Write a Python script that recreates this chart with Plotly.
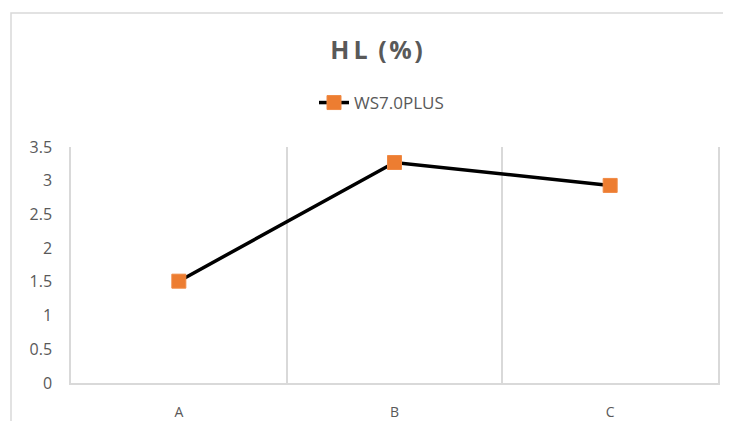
import plotly.graph_objects as go

categories = ["A", "B", "C"]
values = [1.51, 3.27, 2.93]
series_name = "WS7.0PLUS"
y_ticks = [0, 0.5, 1, 1.5, 2, 2.5, 3, 3.5]
y_tick_labels = ["0", "0.5", "1", "1.5", "2", "2.5", "3", "3.5"]

OFF = 8  # page body margin
W, H = 731 - OFF, 421 - OFF
# plot area in page pixels: left 71, top 147, right 718, bottom 383
L = 71 - OFF
T = 147 - OFF
R = W - (718 - OFF)
B = H - (383 - OFF)
pw = W - L - R
ph = H - T - B

grid = "#D9D9D9"
txt = "#595959"


def px_x(page_x):
    return (page_x - OFF - L) / pw


def px_y(page_y):
    return (H - B - (page_y - OFF)) / ph


fig = go.Figure()
fig.add_trace(go.Scatter(
    x=categories, y=values, name=series_name, mode="lines+markers",
    line=dict(color="black", width=3.5),
    marker=dict(symbol="square", size=14, color="#ED7D31",
                line=dict(color="#F08A45", width=1)),
))

# outer chart border (cropped by the picture)
fig.add_shape(type="rect", xref="paper", yref="paper",
              x0=px_x(11), x1=1.5, y0=-0.5, y1=px_y(13),
              line=dict(color=grid, width=1.5), layer="below")

title_text = "H\u2009L\u2009 (\u200a%\u200a)"

fig.update_layout(
    width=W, height=H,
    margin=dict(l=L, r=R, t=T, b=B, autoexpand=False),
    paper_bgcolor="white", plot_bgcolor="white",
    font=dict(family="Open Sans", color=txt, size=13),
    title=dict(text="<b>" + title_text + "</b>", x=(376.5 - OFF) / W, xanchor="center",
               y=1 - (50 - OFF) / H, yanchor="middle",
               font=dict(family="Open Sans", size=25, color=txt)),
    showlegend=True,
    legend=dict(orientation="h", x=px_x(314), xanchor="left",
                y=px_y(103), yanchor="middle",
                font=dict(size=17, color=txt), bgcolor="rgba(0,0,0,0)"),
    xaxis=dict(type="category", range=[-0.5, 2.5], tickson="boundaries",
               showgrid=True, gridcolor=grid, gridwidth=1.5,
               showline=True, linecolor=grid, linewidth=1.5, mirror=False,
               ticks="", tickfont=dict(size=14, color=txt),
               ticklabelstandoff=15, zeroline=False, automargin=False),
    yaxis=dict(range=[0, 3.5], tickvals=y_ticks, ticktext=y_tick_labels,
               showgrid=False, zeroline=False,
               showline=True, linecolor=grid, linewidth=1.5, mirror=True,
               ticks="", tickfont=dict(size=16, color=txt),
               ticklabelstandoff=14, automargin=False),
)

fig.write_html("out.html")
